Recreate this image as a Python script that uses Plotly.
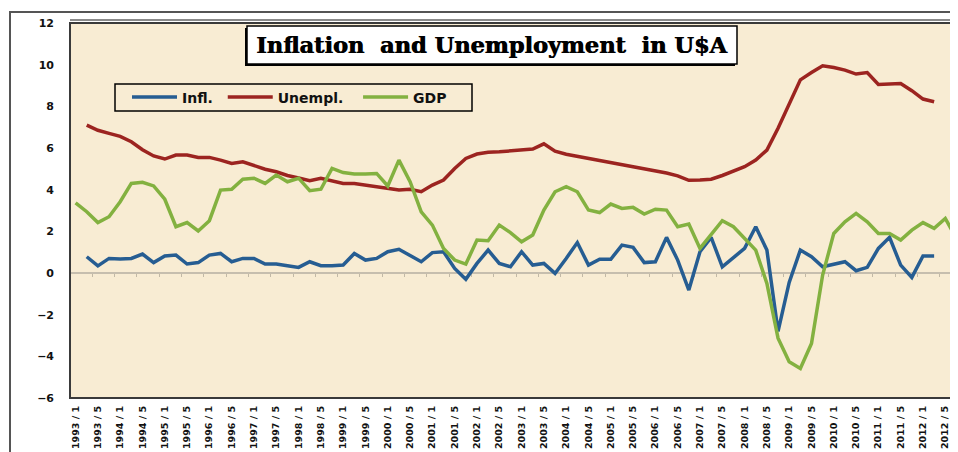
import plotly.graph_objects as go

# ---------------- data ----------------
years = list(range(1993, 2013))
quarters = [f"{y} / Q{q}" for y in years for q in (1, 2, 3, 4)]   # 80 categories
tick_labels = [f"{y} / {p}" for y in years for p in (1, 5)]          # shown every other category
tick_cats = quarters[::2]

# GDP: 1993 Q1 .. 2012 Q4
gdp = [3.37, 2.94, 2.42, 2.70, 3.42, 4.30, 4.35, 4.18, 3.54, 2.22,
       2.42, 2.02, 2.51, 3.98, 4.02, 4.50, 4.55, 4.30, 4.70, 4.38,
       4.55, 3.95, 4.02, 5.02, 4.82, 4.75, 4.75, 4.78, 4.18, 5.42,
       4.38, 2.94, 2.30, 1.18, 0.62, 0.43, 1.58, 1.55, 2.30, 1.94,
       1.50, 1.82, 3.02, 3.90, 4.14, 3.90, 3.02, 2.90, 3.31, 3.10,
       3.15, 2.83, 3.06, 3.02, 2.22, 2.35, 1.18, 1.82, 2.51, 2.22,
       1.66, 1.10, -0.50, -3.13, -4.26, -4.58, -3.38, -0.10, 1.90, 2.46,
       2.86, 2.46, 1.90, 1.90, 1.58, 2.06, 2.42, 2.14, 2.62, 1.66]

# Inflation and unemployment: 1993 Q2 .. 2012 Q2
infl_periods = quarters[1:78]
infl = [0.78, 0.34, 0.70, 0.67, 0.70, 0.91, 0.50, 0.82, 0.86, 0.43,
        0.50, 0.86, 0.94, 0.54, 0.70, 0.70, 0.43, 0.43, 0.35, 0.27,
        0.54, 0.35, 0.35, 0.38, 0.94, 0.62, 0.70, 1.02, 1.14, 0.86,
        0.54, 0.98, 1.02, 0.22, -0.30, 0.46, 1.10, 0.46, 0.30, 1.02,
        0.38, 0.46, -0.02, 0.70, 1.46, 0.38, 0.66, 0.66, 1.34, 1.23,
        0.50, 0.54, 1.71, 0.62, -0.82, 1.02, 1.71, 0.30, 0.75, 1.18,
        2.22, 1.10, -2.80, -0.45, 1.10, 0.78, 0.30, 0.43, 0.54, 0.11,
        0.27, 1.18, 1.71, 0.38, -0.21, 0.82, 0.82]
unemp = [7.10, 6.85, 6.70, 6.56, 6.30, 5.92, 5.62, 5.47, 5.66, 5.66,
         5.55, 5.55, 5.42, 5.26, 5.34, 5.14, 4.98, 4.86, 4.68, 4.56,
         4.43, 4.55, 4.43, 4.30, 4.30, 4.22, 4.11, 4.02, 3.98, 4.02,
         3.90, 4.22, 4.46, 5.02, 5.50, 5.71, 5.80, 5.82, 5.85, 5.90,
         5.95, 6.20, 5.85, 5.70, 5.60, 5.50, 5.42, 5.34, 5.20, 5.10,
         5.00, 4.90, 4.80, 4.66, 4.45, 4.46, 4.50, 4.68, 4.88, 5.10,
         5.42, 5.90, 6.95, 8.10, 9.27, 9.62, 9.95, 9.86, 9.74, 9.55,
         9.62, 9.05, 9.07, 9.10, 8.75, 8.35, 8.22]

y_ticks = [-6, -4, -2, 0, 2, 4, 6, 8, 10, 12]

BLUE, RED, GREEN = "#265d92", "#9c2420", "#83b140"
NB = "\u00a0"

# ---------------- figure ----------------
fig = go.Figure()
fig.add_trace(go.Scatter(x=infl_periods, y=infl, name="Infl." + NB, mode="lines",
                         line=dict(color=BLUE, width=3.5)))
fig.add_trace(go.Scatter(x=infl_periods, y=unemp, name="Unempl." + NB * 2, mode="lines",
                         line=dict(color=RED, width=3.5)))
fig.add_trace(go.Scatter(x=quarters, y=gdp, name="GDP", mode="lines",
                         line=dict(color=GREEN, width=3.5), xaxis="x2"))

# the page body adds an 8 px offset; the figure is sized so the plot lands where the reference has it
fig.update_layout(
    width=950, height=444,
    margin=dict(l=62, r=0, t=15, b=54, autoexpand=False),
    paper_bgcolor="white",
    plot_bgcolor="#f8ecd3",
    showlegend=True,
    legend=dict(orientation="h", x=(127 - 70) / 888.0, y=(398 - 97.5) / 375.0,
                xanchor="left", yanchor="middle",
                borderwidth=0, bgcolor="rgba(0,0,0,0)",
                itemwidth=45,
                font=dict(family="DejaVu Sans", size=14, color="#111", weight="bold")),
    xaxis=dict(type="category", categoryorder="array", categoryarray=quarters,
               range=[-0.5, 79.14], tickmode="array", tickvals=tick_cats, ticktext=tick_labels,
               tickangle=-90, ticks="", showgrid=False, zeroline=False, showline=False,
               ticklabelstandoff=5, automargin=False,
               tickfont=dict(family="DejaVu Sans", size=9.5, color="#111", weight="bold")),
    xaxis2=dict(type="category", categoryorder="array", categoryarray=quarters,
                overlaying="x", matches="x", anchor="free", position=1/3,
                showticklabels=False, ticks="outside", ticklen=3, tickwidth=1,
                tickcolor="#c2b9a6", tickson="boundaries", automargin=False,
                showline=True, linecolor="#c6beae", linewidth=2,
                showgrid=False, zeroline=False, layer="below traces"),
    yaxis=dict(range=[-6, 12], tickmode="array", tickvals=y_ticks, ticks="",
               showgrid=False, zeroline=False, showline=False, ticklabelstandoff=15,
               automargin=False,
               tickfont=dict(family="DejaVu Sans", size=11, color="#111", weight="bold")),
)

# helpers: reference-screen pixels -> paper fractions of the plot area (70..958, 23..398)
def px_x(px):
    return (px - 70) / 888.0

def px_y(py):
    return (398 - py) / 375.0

shapes = [
    # outer chart frame
    dict(type="rect", xref="paper", yref="paper", x0=px_x(10), x1=px_x(1000),
         y0=px_y(500), y1=px_y(12), line=dict(color="#555555", width=2)),
    # plot-area frame
    dict(type="rect", xref="paper", yref="paper", x0=0, x1=px_x(1000), y0=0, y1=1,
         line=dict(color="#3a3a3a", width=2)),
    dict(type="line", xref="paper", yref="paper", x0=0, x1=px_x(1000),
         y0=px_y(20), y1=px_y(20), line=dict(color="#8a8a8a", width=2)),
    # title box (shadow + box)
    dict(type="rect", xref="paper", yref="paper", x0=px_x(245), x1=px_x(735),
         y0=px_y(66), y1=px_y(28), fillcolor="black", line=dict(width=0)),
    dict(type="rect", xref="paper", yref="paper", x0=px_x(247), x1=px_x(737),
         y0=px_y(64), y1=px_y(26), fillcolor="white", line=dict(color="black", width=1.5)),
    # legend frame
    dict(type="rect", xref="paper", yref="paper", x0=px_x(115), x1=px_x(472),
         y0=px_y(111), y1=px_y(84), line=dict(color="black", width=1.5)),
]
fig.update_layout(shapes=shapes)

fig.add_annotation(text="Inflation\u00a0 and Unemployment\u00a0 in U$A",
                   xref="paper", yref="paper", x=px_x(491), y=px_y(45),
                   xanchor="center", yanchor="middle", showarrow=False,
                   font=dict(family="DejaVu Serif", size=22.5, color="black", weight="bold",
                             shadow="0.8px 0px 0px black"))

fig.write_html("out.html")
